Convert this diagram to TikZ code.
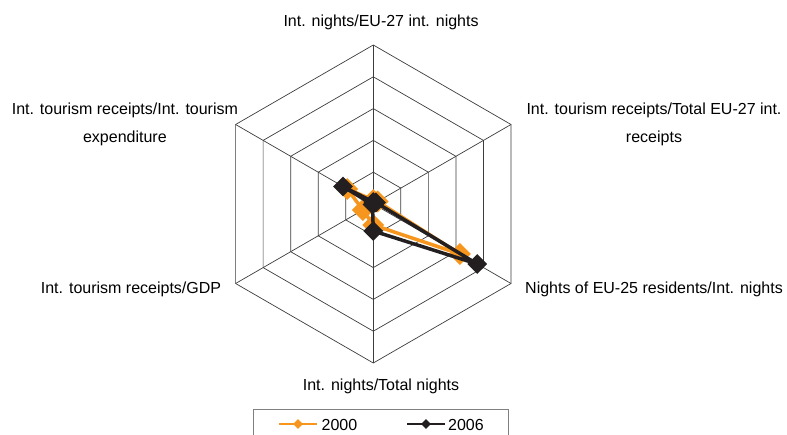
\documentclass[tikz,border=0pt]{standalone}
\usepackage{fontspec}
\setmainfont{Liberation Sans}
\usetikzlibrary{shapes.geometric}
\definecolor{yrA}{RGB}{246,150,30}
\definecolor{yrB}{RGB}{35,31,32}
\definecolor{gridc}{RGB}{60,60,60}
\tikzset{
  lbl/.style={font=\fontsize{16}{28}\selectfont, inner sep=0pt, align=center},
  mk/.style={diamond, fill=#1, inner sep=0pt, minimum size=20pt},
  ser/.style={draw=#1, line width=3.5pt, line join=round},
  keymk/.style={diamond, fill=#1, inner sep=0pt, minimum size=10pt},
}
\begin{document}
\begin{tikzpicture}[x=1pt,y=1pt]
  \useasboundingbox (0,0) rectangle (787,434);
  \clip (0,0) rectangle (787,434);
  \begin{scope}[shift={(373.3,230)}, color=gridc, line width=0.7pt]
    \draw (90:159) -- (30:159) -- (-30:159) -- (-90:159) -- (-150:159) -- (150:159) -- cycle;
    \draw (90:127.2) -- (30:127.2) -- (-30:127.2) -- (-90:127.2) -- (-150:127.2) -- (150:127.2) -- cycle;
    \draw (90:95.4) -- (30:95.4) -- (-30:95.4) -- (-90:95.4) -- (-150:95.4) -- (150:95.4) -- cycle;
    \draw (90:63.6) -- (30:63.6) -- (-30:63.6) -- (-90:63.6) -- (-150:63.6) -- (150:63.6) -- cycle;
    \draw (90:31.8) -- (30:31.8) -- (-30:31.8) -- (-90:31.8) -- (-150:31.8) -- (150:31.8) -- cycle;
    \draw (0,0) -- (90:159);
    \draw (0,0) -- (30:159);
    \draw (0,0) -- (-30:159);
    \draw (0,0) -- (-90:159);
    \draw (0,0) -- (-150:159);
    \draw (0,0) -- (150:159);
  \end{scope}
  \begin{scope}[shift={(373.3,230)}]
    \coordinate (p0) at (90:4);
    \coordinate (p1) at (30:5);
    \coordinate (p2) at (-30:100);
    \coordinate (p3) at (-90:21);
    \coordinate (p4) at (-150:12);
    \coordinate (p5) at (150:30);
    \coordinate (q0) at (90:2);
    \coordinate (q1) at (30:3);
    \coordinate (q2) at (-30:120);
    \coordinate (q3) at (-90:27);
    \coordinate (q4) at (-150:1);
    \coordinate (q5) at (150:35);
  \end{scope}
  \draw[ser=yrA] (p0) -- (p1) -- (p2) -- (p3) -- (p4) -- (p5) -- cycle;
  \node[mk=yrA, minimum size=22pt] (pm0) at (p0) {};
  \node[mk=yrA, minimum size=22pt] (pm1) at (p1) {};
  \node[mk=yrA, minimum size=22pt] (pm2) at (p2) {};
  \node[mk=yrA, minimum size=22pt] (pm3) at (p3) {};
  \node[mk=yrA, minimum size=22pt] (pm4) at (p4) {};
  \node[mk=yrA, minimum size=22pt] (pm5) at (p5) {};
  \draw[ser=yrB] (q0) -- (q1) -- (q2) -- (q3) -- (q4) -- (q5) -- cycle;
  \node[mk=yrB] (qm0) at (q0) {};
  \node[mk=yrB] (qm1) at (q1) {};
  \node[mk=yrB] (qm2) at (q2) {};
  \node[mk=yrB] (qm3) at (q3) {};
  \node[mk=yrB] (qm4) at (q4) {};
  \node[mk=yrB] (qm5) at (q5) {};
  \node[lbl, anchor=base west] (l0) at (283.3,407.3) {Int. nights/EU-27 int. nights};
  \node[lbl, anchor=north] (l1) at (654,331.5) {Int. tourism receipts/Total EU-27 int.\\receipts};
  \node[lbl, anchor=base west] (l2) at (525,140.7) {Nights of EU-25 residents/Int. nights};
  \node[lbl, anchor=base west] (l3) at (302.7,44) {Int. nights/Total nights};
  \node[lbl, anchor=base west] (l4) at (40.7,140.7) {Int. tourism receipts/GDP};
  \node[lbl, anchor=north] (l5) at (124.9,331.5) {Int. tourism receipts/Int. tourism\\expenditure};
  \draw[gray, line width=0.8pt] (253,-10) rectangle (508.5,25);
  \coordinate (ka) at (279,10);
  \coordinate (kb) at (317,10);
  \draw[yrA, line width=1.6pt] (ka) -- (kb);
  \node[keymk=yrA] (km0) at (298,10) {};
  \node[lbl, anchor=base west] (kt0) at (321.5,4) {2000};
  \coordinate (kc) at (407,10);
  \coordinate (kd) at (445,10);
  \draw[yrB, line width=1.6pt] (kc) -- (kd);
  \node[keymk=yrB] (km1) at (426,10) {};
  \node[lbl, anchor=base west] (kt1) at (448,4) {2006};
\end{tikzpicture}
\end{document}
